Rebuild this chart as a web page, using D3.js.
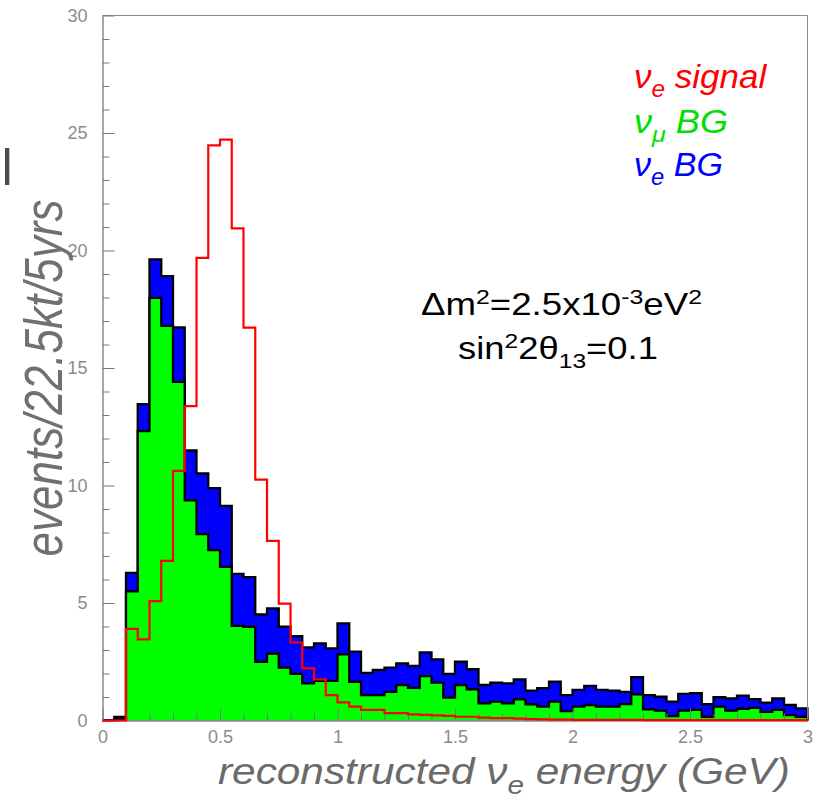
<!DOCTYPE html>
<html><head><meta charset="utf-8">
<script src="https://cdn.jsdelivr.net/npm/d3@7"></script>
<style>body{margin:0;background:#fff} svg{display:block}</style>
</head><body>
<svg id="c" width="817" height="799"></svg>
<script>
// ---------------- data ----------------
const binWidth = 0.05;
const binStart = [0.00,0.05,0.10,0.15,0.20,0.25,0.30,0.35,0.40,0.45,0.50,0.55,0.60,0.65,0.70,0.75,0.80,0.85,0.90,0.95,
  1.00,1.05,1.10,1.15,1.20,1.25,1.30,1.35,1.40,1.45,1.50,1.55,1.60,1.65,1.70,1.75,1.80,1.85,1.90,1.95,
  2.00,2.05,2.10,2.15,2.20,2.25,2.30,2.35,2.40,2.45,2.50,2.55,2.60,2.65,2.70,2.75,2.80,2.85,2.90,2.95];
// nu_mu background (green)
const numuBG = [0,0.05,5.5,12.31,17.98,16.79,14.41,9.37,7.93,7.25,6.54,4.03,3.99,2.5,2.85,2.25,1.98,1.58,1.69,1.69,
  2.81,1.65,1.08,1.08,1.22,1.51,1.39,1.89,1.61,0.97,1.51,1.33,0.73,0.8,0.73,0.9,0.69,0.59,0.8,0.4,
  0.59,0.66,0.59,0.59,0.7,1.11,0.47,0.42,0.19,0.42,0.45,0.16,0.59,0.42,0.5,0.54,0.37,0.45,0.23,0.16];
// nu_e background (blue, stacked on green)
const nueBG = [0,0.10,0.78,1.15,1.64,2.12,2.32,2.12,2.58,2.64,2.59,2.21,2.11,2.01,1.92,1.74,1.61,1.53,1.59,1.38,
  1.32,1.28,0.95,1.07,1.03,0.92,0.93,1.01,0.99,1.01,0.99,0.85,0.78,0.81,0.85,0.85,0.58,0.79,0.85,0.68,
  0.71,0.81,0.71,0.68,0.52,0.74,0.61,0.59,0.61,0.71,0.71,0.54,0.40,0.52,0.56,0.37,0.39,0.49,0.43,0.36];
// nu_e signal (red outline)
const nueSignal = [0,0,3.9,3.45,5.08,6.79,10.62,13.38,19.69,24.47,24.72,20.94,16.72,10.25,7.64,4.97,3.32,2.22,1.75,1.08,
  0.77,0.59,0.45,0.45,0.31,0.31,0.26,0.24,0.22,0.2,0.16,0.16,0.12,0.1,0.1,0.08,0.06,0.05,0.04,0.04,
  0.03,0.03,0.03,0.03,0.03,0.03,0.02,0.02,0.02,0.02,0.02,0.02,0.02,0.02,0.02,0.02,0.02,0.02,0.02,0.02];
const yMajorTicks = [0,5,10,15,20,25,30];
const yTickLabels = ["0","5","10","15","20","25","30"];
const xMajorTicks = [0,0.5,1,1.5,2,2.5,3];
const xTickLabels = ["0","0.5","1","1.5","2","2.5","3"];

// ---------------- layout ----------------
const svg = d3.select("#c");
const x = d3.scaleLinear().domain([0,3]).range([102.5,807.5]);
const y = d3.scaleLinear().domain([0,30]).range([720.5,15.5]);

const totalBG = numuBG.map((v,i)=>v+nueBG[i]);

function stepPoints(vals){
  const pts=[[binStart[0],0]];
  vals.forEach((v,i)=>{ pts.push([binStart[i],v]); pts.push([binStart[i]+binWidth,v]); });
  pts.push([binStart[binStart.length-1]+binWidth,0]);
  return pts;
}
const area = d3.area().x(d=>x(d[0])).y0(y(0)).y1(d=>y(d[1]));
const line = d3.line().x(d=>x(d[0])).y(d=>y(d[1]));

const gH = svg.append("g");
gH.append("path").attr("d", area(stepPoints(totalBG))).attr("fill","#0000ff");
gH.append("path").attr("d", line(stepPoints(totalBG))).attr("fill","none").attr("stroke","#000").attr("stroke-width",2.3);
gH.append("path").attr("d", area(stepPoints(numuBG))).attr("fill","#00ff00");
gH.append("path").attr("d", line(stepPoints(numuBG))).attr("fill","none").attr("stroke","#000").attr("stroke-width",2.3);

// ---------------- axes ----------------
const axisCol = "#8a8a8a";
const gFrame = svg.append("g");
gFrame.append("line").attr("x1",x(0)).attr("x2",x(3)).attr("y1",y(30)).attr("y2",y(30)).attr("stroke",axisCol);
gFrame.append("line").attr("x1",x(3)).attr("x2",x(3)).attr("y1",y(30)).attr("y2",y(0)).attr("stroke",axisCol);

const yMinor = d3.range(0,31,1).filter(v=>v%5!==0);
const xMinor = d3.range(0,31,1).filter(v=>v%5!==0).map(v=>v/10);

const yAx = svg.append("g").attr("transform",`translate(${x(0)},0)`)
  .call(d3.axisLeft(y).tickValues(yMajorTicks).tickFormat((d,i)=>yTickLabels[i]).tickSizeInner(-12).tickSizeOuter(0).tickPadding(15));
const yAxm = svg.append("g").attr("transform",`translate(${x(0)},0)`)
  .call(d3.axisLeft(y).tickValues(yMinor).tickFormat("").tickSizeInner(-7).tickSizeOuter(0));
const xAx = svg.append("g").attr("transform",`translate(0,${y(0)})`)
  .call(d3.axisBottom(x).tickValues(xMajorTicks).tickFormat((d,i)=>xTickLabels[i]).tickSizeInner(-12).tickSizeOuter(0).tickPadding(10));
const xAxm = svg.append("g").attr("transform",`translate(0,${y(0)})`)
  .call(d3.axisBottom(x).tickValues(xMinor).tickFormat("").tickSizeInner(-7).tickSizeOuter(0));
[yAx,yAxm,xAx,xAxm].forEach(g=>{
  g.select(".domain").attr("stroke",axisCol);
  g.selectAll(".tick line").attr("stroke","#777");
  g.selectAll(".tick text").attr("fill","#8c8c8c").style("font-family","Liberation Sans, Arial, sans-serif").style("font-size","18px");
});
xAx.selectAll(".tick text").attr("dy","0.71em");

// red signal histogram on top
svg.append("path").attr("d", line([[0,0]].concat(stepPoints(nueSignal)))).attr("fill","none").attr("stroke","#ff0000").attr("stroke-width",2.2);

// ---------------- text helpers ----------------
function fitText(g, x0, base, width){
  const bb = g.node().getBBox();
  const s = width / bb.width;
  g.attr("transform",`translate(${x0 - bb.x*s},${base}) scale(${s},1)`);
}
const fam = "Liberation Sans, Arial, Helvetica, sans-serif";

// Y title
const yt = svg.append("g").attr("transform","translate(62,378) scale(1.2,1) rotate(-90)");
yt.append("text").attr("text-anchor","middle").style("font-family",fam).style("font-style","italic")
  .style("font-size","44px").attr("fill","#707070").text("events/22.5kt/5yrs");

// X title
const xtg = svg.append("g");
const xt = xtg.append("text").style("font-family",fam).style("font-style","italic").style("font-size","37px").attr("fill","#6a6a6a");
xt.append("tspan").text("reconstructed ν");
xt.append("tspan").attr("dy",10).style("font-size","26px").text("e");
xt.append("tspan").attr("dy",-10).text(" energy (GeV)");
fitText(xtg, 218, 784, 572);

// legend
function legendEntry(col, sub, label, base, width){
  const g = svg.append("g");
  const t = g.append("text").style("font-family",fam).style("font-style","italic").style("font-size","33px").attr("fill",col);
  t.append("tspan").text("ν");
  t.append("tspan").attr("dy",9).style("font-size","23px").text(sub);
  t.append("tspan").attr("dy",-9).text(" "+label);
  fitText(g, 634, base, width);
}
legendEntry("#ff0000","e","signal",88,134);
legendEntry("#00e000","μ","BG",133,94);
legendEntry("#0000ff","e","BG",176,89);

// annotation
const a1 = svg.append("g");
const t1 = a1.append("text").style("font-family",fam).style("font-size","31px").attr("fill","#000");
t1.append("tspan").text("Δm");
t1.append("tspan").attr("dy",-11).style("font-size","21px").text("2");
t1.append("tspan").attr("dy",11).text("=2.5x10");
t1.append("tspan").attr("dy",-11).style("font-size","21px").text("-3");
t1.append("tspan").attr("dy",11).text("eV");
t1.append("tspan").attr("dy",-11).style("font-size","21px").text("2");
fitText(a1, 421, 315, 281);

const a2 = svg.append("g");
const t2 = a2.append("text").style("font-family",fam).style("font-size","31px").attr("fill","#000");
t2.append("tspan").text("sin");
t2.append("tspan").attr("dy",-11).style("font-size","21px").text("2");
t2.append("tspan").attr("dy",11).text("2θ");
t2.append("tspan").attr("dy",9).style("font-size","21px").text("13");
t2.append("tspan").attr("dy",-9).text("=0.1");
fitText(a2, 458, 359, 200);

// cropped fragment at left edge
svg.append("rect").attr("x",5).attr("y",148).attr("width",4.3).attr("height",37).attr("fill","#4a4a55");
</script>
</body></html>
